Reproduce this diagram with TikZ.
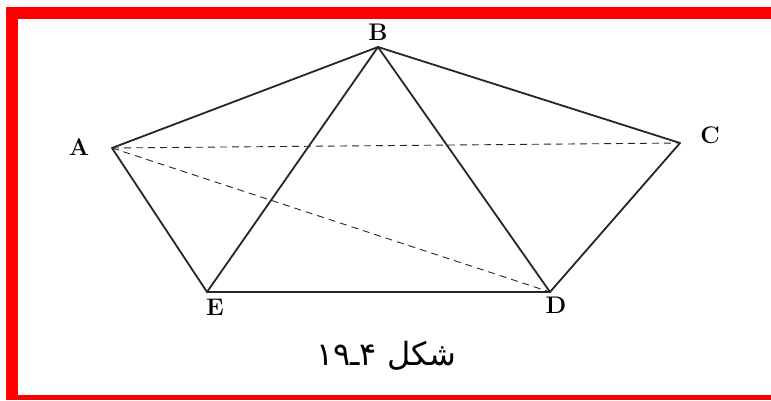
\documentclass[tikz,border=0pt]{standalone}
\usepackage{fontspec}
\usepackage{tikz}
\usetikzlibrary{positioning}
\newfontfamily\arabicfont[Script=Arabic]{DejaVu Sans}
\TeXXeTstate=1
\definecolor{frame}{RGB}{255,0,0}

\begin{document}
\begin{tikzpicture}[x=1pt, y=1pt,
		edge/.style={draw=black!85, line width=1.8pt},
		hidden/.style={draw=black!85, line width=0.9pt, dash pattern=on 7pt off 5pt},
		vlabel/.style={font=\fontsize{24}{28}\selectfont\bfseries, inner sep=0pt}
	]
		\useasboundingbox (0,0) rectangle (771,400);
		\fill[white] (0,0) rectangle (771,400);
		% red frame (open on the right)
		\fill[frame] (6,381) rectangle (771,393);
		\fill[frame] (6,0) rectangle (18,393);
		\fill[frame] (6,0) rectangle (771,5);
		% vertices
		\coordinate (A) at (112,252);
		\coordinate (B) at (378,353);
		\coordinate (C) at (680,257);
		\coordinate (D) at (550,108);
		\coordinate (E) at (207,108);
		\node[vlabel] (la) at (79,253) {A};
		\node[vlabel] (lb) at (378,368) {B};
		\node[vlabel] (lc) at (710,265) {C};
		\node[vlabel] (ld) at (556,95) {D};
		\node[vlabel] (le) at (215,93) {E};
		\foreach \a/\b in {A/B,B/C,C/D,D/E,E/A,B/E,B/D}
			\draw[edge, line cap=round] (\a) -- (\b);
		\draw[hidden] (A) -- (C);
		\draw[hidden] (A) -- (D);
		\node[font=\arabicfont\fontsize{32}{36}\selectfont] (cap) at (386,44) {\beginR شکل \beginL ۴ـ۱۹\endL\endR};
	\end{tikzpicture}
\end{document}
